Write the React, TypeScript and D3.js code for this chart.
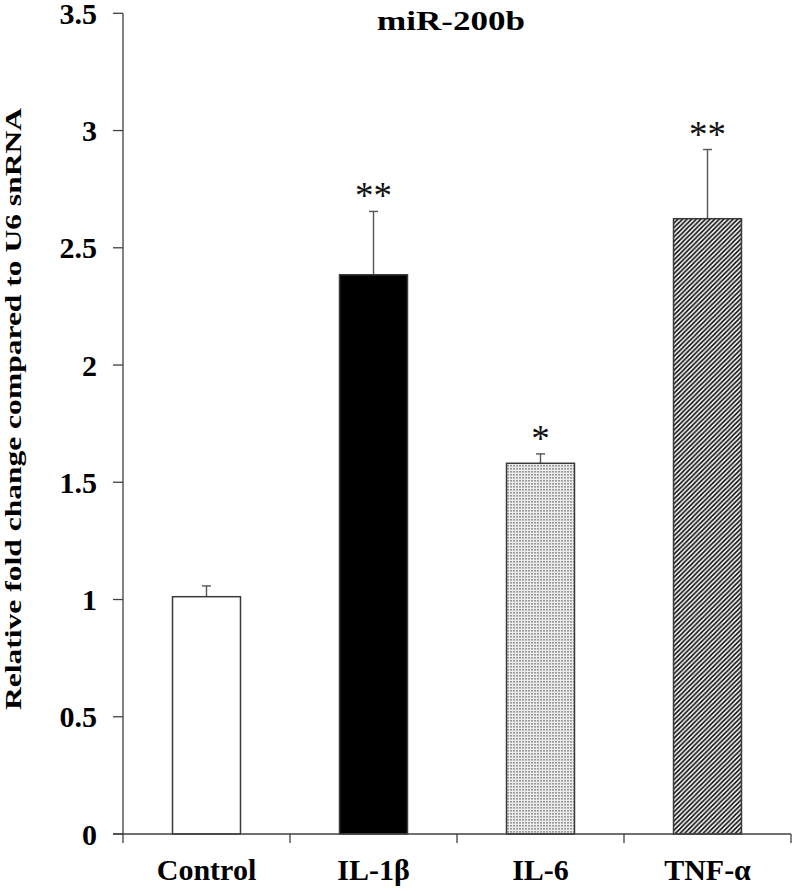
import React from "react";
import * as d3 from "d3";

const categories = ["Control", "IL-1β", "IL-6", "TNF-α"];
const values = [1.012, 2.385, 1.581, 2.624];
const errors = [0.046, 0.27, 0.04, 0.295];
const stars = ["", "**", "*", "**"];
const yTicks = [0, 0.5, 1, 1.5, 2, 2.5, 3, 3.5];
const yTickLabels = ["0", "0.5", "1", "1.5", "2", "2.5", "3", "3.5"];
const fills = ["#ffffff", "#000000", "url(#dots)", "url(#hatch)"];

const W = 795;
const H = 891;
const FONT = "'Liberation Serif', 'Times New Roman', serif";
const AX = "#404040";

export default function App() {
  const left = 123;
  const right = 791;
  const top = 13.3;
  const bottom = 834;
  const p = 0.593;
  const x = d3
    .scaleBand<string>()
    .domain(categories)
    .range([left, right])
    .paddingInner(p)
    .paddingOuter(p / 2);
  const y = d3.scaleLinear().domain([0, 3.5]).range([bottom, top]);
  const step = x.step();
  const bw = x.bandwidth();
  const center = (c: string) => (x(c) as number) + bw / 2;
  const boundaries = [left, ...categories.map((c) => center(c) + step / 2)];

  return (
    <svg
      width={W}
      height={H}
      style={{ position: "absolute", left: 0, top: 0, background: "#fff" }}
    >
      <defs>
        <pattern id="dots" width={3} height={3} patternUnits="userSpaceOnUse">
          <rect width={3} height={3} fill="#ececec" />
          <rect x={0} y={0} width={2} height={1.6} fill="#9a9a9a" />
        </pattern>
        <pattern id="hatch" width={4.6} height={4.6} patternUnits="userSpaceOnUse">
          <rect width={4.6} height={4.6} fill="#ffffff" />
          <path
            d="M-1,1 L1,-1 M0,4.6 L4.6,0 M3.6,5.6 L5.6,3.6"
            stroke="#111"
            strokeWidth={1.7}
          />
        </pattern>
      </defs>

      {/* title */}
      <text
        x={451}
        y={30}
        textAnchor="middle"
        fontFamily={FONT}
        fontWeight="bold"
        fontSize={27}
        textLength={148}
        lengthAdjust="spacingAndGlyphs"
      >
        miR-200b
      </text>

      {/* y label */}
      <text
        transform={`translate(21,409) rotate(-90)`}
        textAnchor="middle"
        fontFamily={FONT}
        fontWeight="bold"
        fontSize={24}
        textLength={602}
        lengthAdjust="spacingAndGlyphs"
      >
        Relative fold change compared to U6 snRNA
      </text>

      {/* bars */}
      {categories.map((c, i) => (
        <g key={c}>
          <line
            x1={center(c)}
            x2={center(c)}
            y1={y(values[i])}
            y2={y(values[i] + errors[i])}
            stroke="#555"
            strokeWidth={1.4}
          />
          <line
            x1={center(c) - 4.5}
            x2={center(c) + 4.5}
            y1={y(values[i] + errors[i])}
            y2={y(values[i] + errors[i])}
            stroke="#555"
            strokeWidth={1.4}
          />
          <rect
            x={x(c)}
            y={y(values[i])}
            width={bw}
            height={bottom - y(values[i])}
            fill={fills[i]}
            stroke="#3a3a3a"
            strokeWidth={1.5}
          />
          {stars[i] && (
            <text
              x={center(c)}
              y={y(values[i] + errors[i]) - 3}
              textAnchor="middle"
              fontFamily={FONT}
              fontSize={37}
              fill="#111"
            >
              {stars[i]}
            </text>
          )}
        </g>
      ))}

      {/* y axis */}
      <line x1={left} x2={left} y1={top} y2={bottom} stroke={AX} strokeWidth={1.3} />
      {yTicks.map((t, i) => (
        <g key={t}>
          <line x1={left - 10} x2={left} y1={y(t)} y2={y(t)} stroke={AX} strokeWidth={1.3} />
          <text
            x={97}
            y={y(t)}
            dy="0.35em"
            textAnchor="end"
            fontFamily={FONT}
            fontWeight="bold"
            fontSize={30}
          >
            {yTickLabels[i]}
          </text>
        </g>
      ))}

      {/* x axis */}
      <line x1={left - 10} x2={right} y1={bottom} y2={bottom} stroke={AX} strokeWidth={1.3} />
      {boundaries.map((b, i) => (
        <line key={i} x1={b} x2={b} y1={bottom} y2={bottom + 9} stroke={AX} strokeWidth={1.3} />
      ))}
      {categories.map((c) => (
        <text
          key={c}
          x={center(c)}
          y={880}
          textAnchor="middle"
          fontFamily={FONT}
          fontWeight="bold"
          fontSize={30}
        >
          {c}
        </text>
      ))}
    </svg>
  );
}
